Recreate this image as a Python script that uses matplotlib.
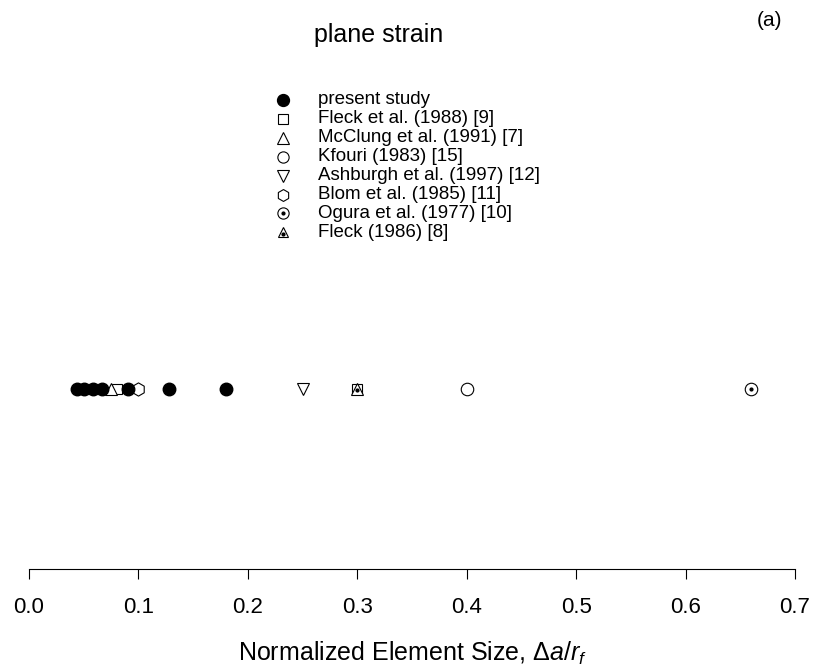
import numpy as np
import matplotlib
matplotlib.use('Agg')
import matplotlib.pyplot as plt

plt.rcParams['font.family'] = ['Liberation Sans', 'DejaVu Sans']
plt.rcParams['mathtext.fontset'] = 'custom'
plt.rcParams['mathtext.rm'] = 'Liberation Sans'
plt.rcParams['mathtext.it'] = 'Liberation Sans:italic'

# normalized element sizes da/rf for each study (plane strain)
present_study = [0.0435, 0.05, 0.0588, 0.0667, 0.0909, 0.128, 0.18]
fleck_1988 = [0.08, 0.3]
mcclung_1991 = [0.075]
kfouri_1983 = [0.4]
ashburgh_1997 = [0.25]
blom_1985 = [0.1]
ogura_1977 = [0.66]
fleck_1986 = [0.3]

labels = ['present study', 'Fleck et al. (1988) [9]', 'McClung et al. (1991) [7]',
          'Kfouri (1983) [15]', 'Ashburgh et al. (1997) [12]', 'Blom et al. (1985) [11]',
          'Ogura et al. (1977) [10]', 'Fleck (1986) [8]']

ew = 0.8
open_kw = dict(linestyle='none', mfc='white', mec='black', mew=ew)
dot_kw = dict(linestyle='none', marker='o', markersize=2, color='black')

# marker style per study: (marker, size, filled, centre dot)
styles = [('o', 9, True, False),
          ('s', 7.5, False, False),
          ('^', 9, False, False),
          ('o', 9, False, False),
          ('v', 9, False, False),
          ('h', 9.5, False, False),
          ('o', 9, False, True),
          ('^', 8, False, True)]
series = [present_study, fleck_1988, mcclung_1991, kfouri_1983, ashburgh_1997,
          blom_1985, ogura_1977, fleck_1986]

fig = plt.figure(figsize=(8.14, 6.67), dpi=100)
ax = fig.add_axes([0.0356, 0.147, 0.941, 0.5])

def draw(a, x, y, st, z=2):
    m, ms, filled, dot = st
    if filled:
        a.plot(x, y, marker=m, markersize=ms, linestyle='none', color='black', zorder=z + 1)
    else:
        a.plot(x, y, marker=m, markersize=ms, zorder=z, **open_kw)
    if dot:
        dy = -0.006 if m == '^' else 0.0
        a.plot(x, np.asarray(y) + dy, zorder=z, **dot_kw)

# draw data points along the single row
order = [1, 2, 3, 4, 5, 6, 7, 0]
for i in order:
    v = series[i]
    draw(ax, v, np.ones(len(v)), styles[i])

ax.set_xlim(0, 0.7)
ax.set_ylim(0, 333.5 / 180.)
ticks = np.arange(0, 0.71, 0.1)
ax.set_xticks(ticks)
ax.set_xticklabels(['%.1f' % t for t in ticks])
ax.tick_params(axis='x', direction='out', length=7, width=0.8, labelsize=16, pad=13)
ax.set_yticks([])
for s in ['top', 'left', 'right']:
    ax.spines[s].set_visible(False)
ax.spines['bottom'].set_linewidth(0.8)
ax.set_xlabel(r'Normalized Element Size, $\mathit{Δa/r_f}$', fontsize=18, labelpad=16)

# legend block drawn on an overlay in pixel units
lax = fig.add_axes([0, 0, 1, 1])
lax.set_xlim(0, 814)
lax.set_ylim(667, 0)
lax.axis('off')
for k, (lab, st) in enumerate(zip(labels, styles)):
    y = 100 + 18.9 * k
    m, ms, filled, dot = st
    draw(lax, [283], [y], (m, ms * (0.95 if filled else 0.9), filled, False))
    if dot:
        lax.plot([283], [y + (1.5 if m == '^' else 0)], **dot_kw)
    lax.text(318, y, lab, fontsize=13.5, ha='left', va='center')

fig.text(379 / 814., 1 - 42 / 667., 'plane strain', fontsize=18, ha='center', va='baseline')
fig.text(769 / 814., 1 - 26 / 667., '(a)', fontsize=15, ha='center', va='baseline')

fig.savefig('out.png', dpi=100)
